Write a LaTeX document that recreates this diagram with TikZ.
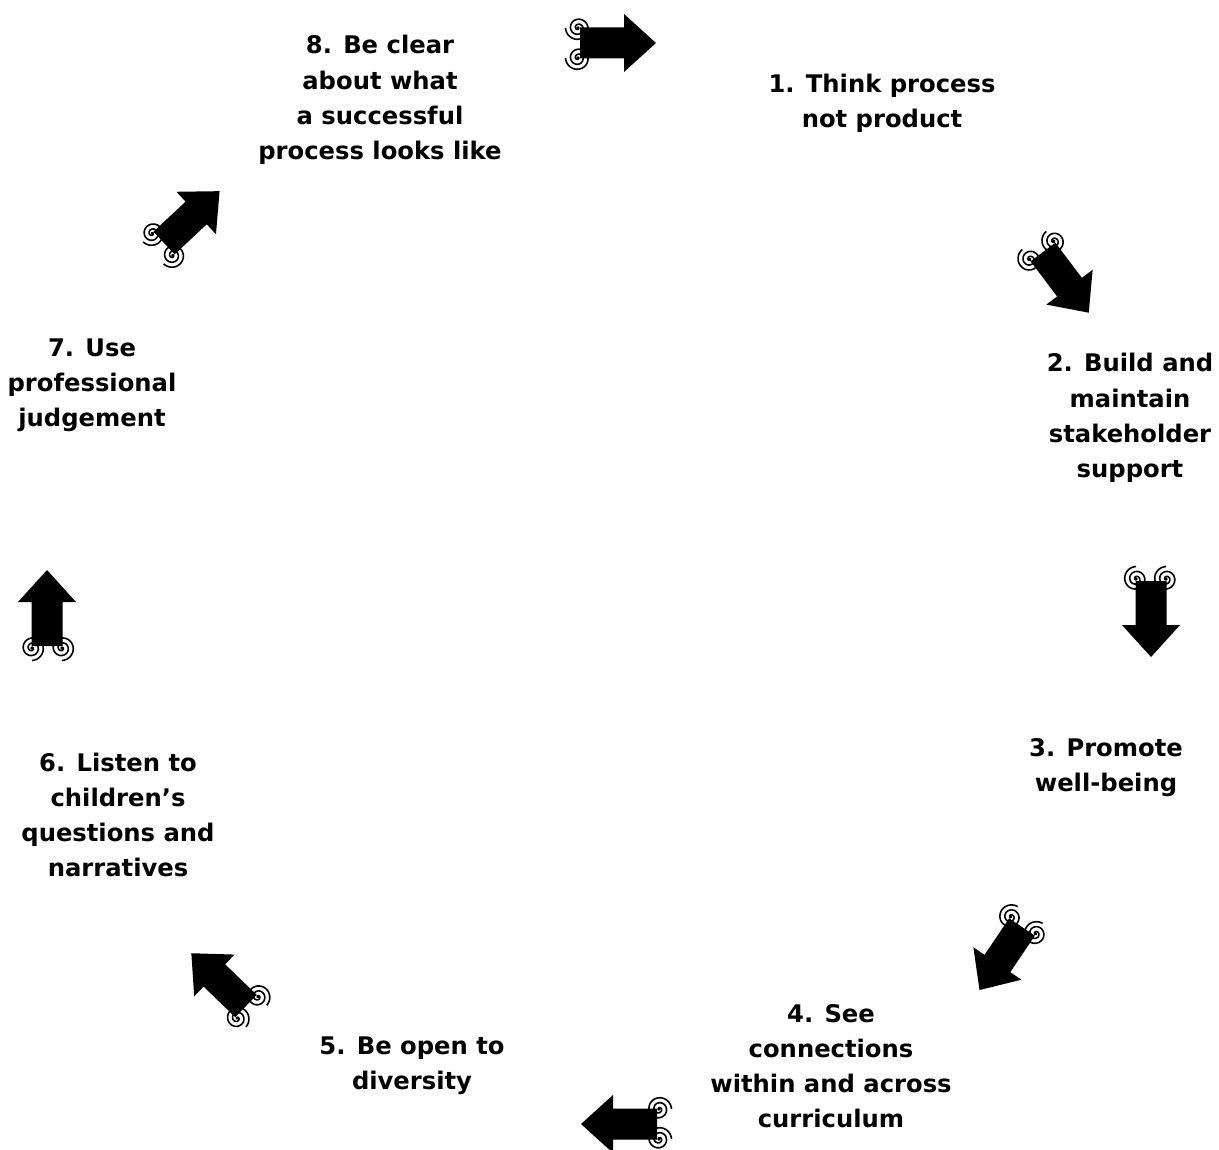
\documentclass[tikz,border=0pt]{standalone}
\usepackage{fontspec}
\setmainfont{DejaVu Sans}
\tikzset{
	stage/.style={align=center, inner sep=1pt, font=\fontsize{13.8}{20}\selectfont\bfseries},
	curl/.style={line width=0.9pt},
	curlarrow/.pic={
		% two spirals at the tail, then the block arrow on top
		\foreach \s in {-15,15} {
			\draw[curl] plot[smooth, domain=0:900, samples=100] ({-2+\x/900*12.5*cos(\x)}, {\s+\x/900*12.5*sin(\x)});
			\fill (-2,\s) circle (1.8);
		}
		\fill (0,-15.5) -- (44,-15.5) -- (44,-29) -- (76,0) -- (44,29) -- (44,15.5) -- (0,15.5) -- cycle;
	}
}

\begin{document}
\begin{tikzpicture}[x=0.02cm, y=-0.02cm]
	\useasboundingbox (0,0) rectangle (1219,1149);

	\node[stage] (s1) at (882,103) {1. Think process\\not product};
	\node[stage] (s2) at (1130,418) {2. Build and\\maintain\\stakeholder\\support};
	\node[stage] (s3) at (1106,768) {3. Promote\\well-being};
	\node[stage] (s4) at (831,1066) {4. See\\connections\\within and across\\curriculum};
	\node[stage] (s5) at (412,1066) {5. Be open to\\diversity};
	\node[stage] (s6) at (118,815) {6. Listen to\\children’s\\questions and\\narratives};
	\node[stage] (s7) at (92,385) {7. Use\\professional\\judgement};
	\node[stage] (s8) at (380,100) {8. Be clear\\about what\\a successful\\process looks like};

	\coordinate (a1) at (580,43);
	\coordinate (a2) at (1043,252);
	\coordinate (a3) at (1151,581);
	\coordinate (a4) at (1022,927);
	\coordinate (a5) at (657,1124);
	\coordinate (a6) at (246,1006);
	\coordinate (a7) at (47,646);
	\coordinate (a8) at (164,243);

	\pic at (a1) {curlarrow};
	\pic[rotate=-53] at (a2) {curlarrow};
	\pic[rotate=-90] at (a3) {curlarrow};
	\pic[rotate=-124] at (a4) {curlarrow};
	\pic[rotate=180] at (a5) {curlarrow};
	\pic[rotate=136] at (a6) {curlarrow};
	\pic[rotate=90] at (a7) {curlarrow};
	\pic[rotate=43] at (a8) {curlarrow};
\end{tikzpicture}
\end{document}
